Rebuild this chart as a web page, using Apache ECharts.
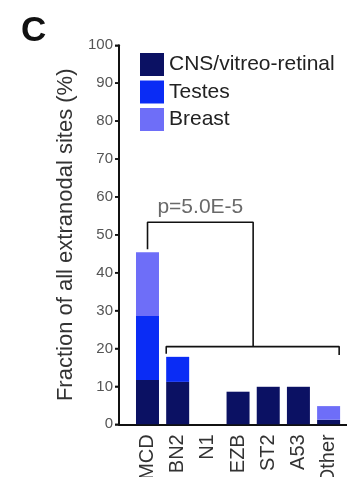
<!DOCTYPE html>
<html>
<head>
<meta charset="utf-8">
<script src="https://cdn.jsdelivr.net/npm/echarts@6/dist/echarts.min.js"></script>
<style>html,body{margin:0;padding:0;background:#fff;}#c{width:347px;height:477px;}</style>
</head>
<body>
<div id="c"></div>
<script>
var categories = ['MCD', 'BN2', 'N1', 'EZB', 'ST2', 'A53', 'Other'];
var seriesNames = ['CNS/vitreo-retinal', 'Testes', 'Breast'];
var cnsValues = [11.7, 11.2, 0, 8.6, 9.9, 9.9, 1.2];
var testesValues = [16.9, 6.6, 0, 0, 0, 0, 0];
var breastValues = [16.8, 0, 0, 0, 0, 0, 3.6];
var yTicks = [0, 10, 20, 30, 40, 50, 60, 70, 80, 90, 100];
// significance brackets, in (category index, value) units
var bracketTop = [[0, 46.2], [0, 53.3], [3.5, 53.3], [3.5, 20.5]];
var bracketLow = [[0.62, 18.6], [0.62, 20.5], [6.35, 20.5], [6.35, 18.3]];
var pText = 'p=5.0E-5';
var pPos = [1.75, 57.2];

var FONT = "'Liberation Sans', Arial, sans-serif";
var colors = ['#0b1163', '#0a2cf5', '#6e6ef8'];
// overlay axis: its 0 sits at the y-axis line; category i is at i + SHIFT
var SHIFT = 0.945;
function shifted(pts) { return pts.map(function (p) { return [p[0] + SHIFT, p[1]]; }); }

var chart = echarts.init(document.getElementById('c'), null, {renderer: 'canvas'});
var barSeries = [cnsValues, testesValues, breastValues].map(function (vals, k) {
  return {
    name: seriesNames[k], type: 'bar', stack: 'total', barWidth: 23,
    xAxisIndex: 0, yAxisIndex: 0,
    data: vals, itemStyle: {color: colors[k]}, silent: true
  };
});
var lineStyle = {color: '#111', width: 1.6};
chart.setOption({
  animation: false,
  textStyle: {fontFamily: FONT},
  title: {text: 'C', left: 16, top: 9, textStyle: {fontFamily: FONT, fontSize: 35, fontWeight: 'bold', color: '#111'}},
  legend: {
    data: seriesNames, orient: 'vertical', left: 135, top: 48,
    itemWidth: 24, itemHeight: 23, itemGap: 4.5, icon: 'rect',
    textStyle: {fontFamily: FONT, fontSize: 21, color: '#222'}, selectedMode: false
  },
  grid: [
    {left: 132.4, right: 3.3, top: 45.3, bottom: 52.7, containLabel: false, outerBoundsMode: 'none'},
    {left: 119, right: 0, top: 45.3, bottom: 52.7, containLabel: false, outerBoundsMode: 'none'}
  ],
  xAxis: [
    {
      type: 'category', gridIndex: 0, data: categories,
      axisLine: {show: false}, axisTick: {show: false}, splitLine: {show: false},
      axisLabel: {rotate: 90, margin: 10, interval: 0, fontFamily: FONT, fontSize: 20, color: '#333'}
    },
    {
      type: 'value', gridIndex: 1, min: 0, max: 7.555,
      axisLine: {show: true, onZero: false, lineStyle: {color: '#111', width: 2}},
      axisTick: {show: false}, splitLine: {show: false}, axisLabel: {show: false}
    }
  ],
  yAxis: [
    {type: 'value', gridIndex: 0, min: 0, max: 100, show: false},
    {
      type: 'value', gridIndex: 1, min: 0, max: 100, interval: 10,
      name: 'Fraction of all extranodal sites (%)', nameLocation: 'middle', nameGap: 40,
      nameTextStyle: {fontFamily: FONT, fontSize: 22, color: '#333'},
      axisLine: {show: true, onZero: false, lineStyle: {color: '#111', width: 2}},
      axisTick: {show: true, length: 4, lineStyle: {color: '#111', width: 1.5}},
      splitLine: {show: false},
      axisLabel: {fontFamily: FONT, fontSize: 15, color: '#555', margin: 6,
        formatter: function (v) { return yTicks.indexOf(v) >= 0 ? String(v) : ''; }}
    }
  ],
  series: barSeries.concat([
    // y-axis spine, drawn through the overlay axes
    {type: 'line', xAxisIndex: 1, yAxisIndex: 1, clip: false, silent: true, z: 6,
      data: [[0, yTicks[0]], [0, yTicks[yTicks.length - 1]]], symbol: 'none',
      lineStyle: {color: '#111', width: 2}},
    // y-axis tick marks
    {type: 'custom', xAxisIndex: 1, yAxisIndex: 1, clip: false, silent: true, z: 6,
      data: yTicks.map(function (v) { return [0, v]; }),
      renderItem: function (params, api) {
        var p = api.coord([api.value(0), api.value(1)]);
        return {type: 'line', shape: {x1: p[0] - 4, y1: p[1], x2: p[0], y2: p[1]},
          style: {stroke: '#111', lineWidth: 1.5}};
      }},
    {type: 'line', xAxisIndex: 1, yAxisIndex: 1, data: shifted(bracketTop), symbol: 'none', lineStyle: lineStyle, silent: true, z: 5},
    {type: 'line', xAxisIndex: 1, yAxisIndex: 1, data: shifted(bracketLow), symbol: 'none', lineStyle: lineStyle, silent: true, z: 5},
    {type: 'scatter', xAxisIndex: 1, yAxisIndex: 1, data: shifted([pPos]), symbolSize: 0, silent: true,
      label: {show: true, position: 'inside', formatter: pText, fontFamily: FONT, fontSize: 21, color: '#444'}}
  ])
});
</script>
</body>
</html>
